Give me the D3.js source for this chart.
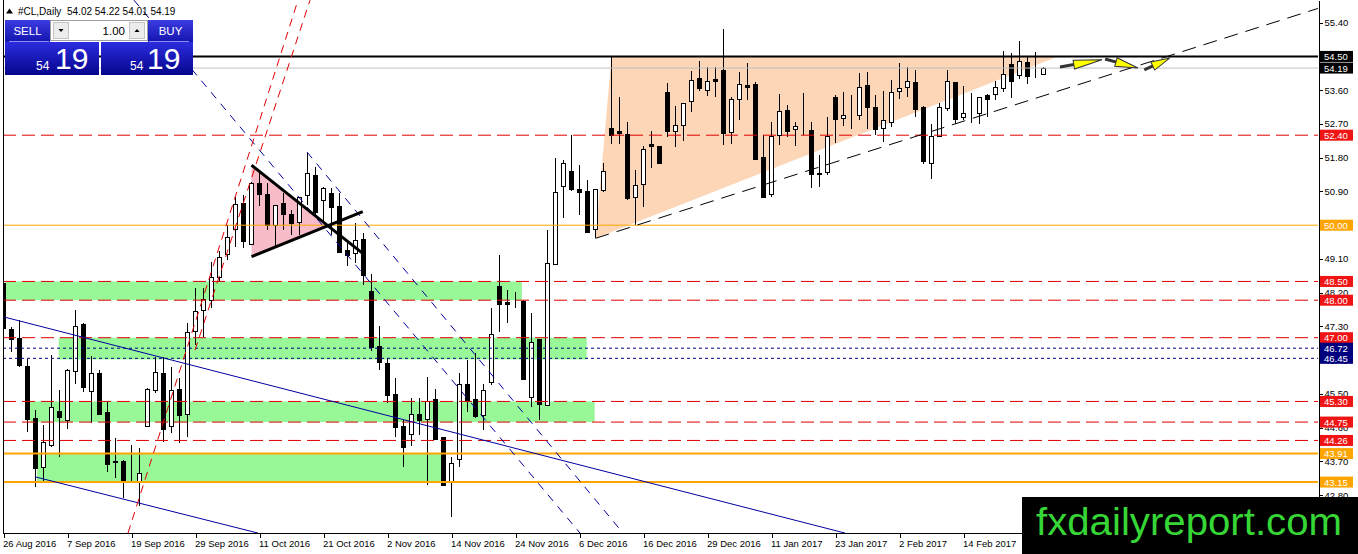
<!DOCTYPE html>
<html>
<head>
<meta charset="utf-8">
<script src="https://cdn.jsdelivr.net/npm/d3@7"></script>
<style>
  body { margin: 0; background: #fff; }
  svg { display: block; font-family: 'Liberation Sans', Arial, sans-serif; }
  .axis text { font-size: 9.5px; fill: #000; }
  .axis path, .axis line { stroke: #000; shape-rendering: crispEdges; }
</style>
</head>
<body>
<svg id="chart" width="1358" height="554"></svg>
<script>
// daily bars, index 0 = 26 Aug 2016
var opens = [
  48.45, 47.22, 46.98, 46.25, 44.85, 43.54, 44.16, 45.04, 44.82, 46.12,
  47.37, 45.56, 46.05, 45.01, 43.72, 43.71, 43.15, 43.16, 44.63, 45.62,
  46.05, 44.63, 45.63, 44.97, 47.20, 47.74, 48.02, 48.63, 49.25, 49.89,
  50.58, 49.50, 51.13, 50.83, 50.00, 50.60, 50.30, 50.10, 50.81, 51.34,
  50.65, 50.87, 50.51, 49.34, 49.25, 49.62, 48.25, 46.78, 46.32, 45.50,
  44.65, 44.45, 44.97, 44.82, 45.36, 44.34, 43.19, 43.76, 45.76, 45.36,
  44.94, 45.81, 48.38, 47.96, 47.99, 47.99, 45.41, 46.96, 45.20, 48.98,
  51.05, 51.45, 50.97, 50.92, 49.89, 50.94, 52.58, 52.51, 52.42, 50.76,
  51.09, 52.17, 52.11, 53.54, 52.49, 52.66, 53.31, 53.92, 53.62, 53.89,
  54.14, 52.49, 53.36, 53.73, 53.77, 51.83, 50.83, 52.41, 53.07, 52.56,
  52.55, 52.54, 51.38, 51.43, 53.41, 52.85, 52.94, 52.94, 53.74, 53.14,
  52.61, 52.74, 53.58, 53.70, 53.81, 53.14, 51.65, 52.38, 53.14, 53.81,
  52.89, 53.00, 53.00, 53.46, 53.50, 53.65, 54.30, 54.00, 54.35, 54.02,
  54.02
];
var highs = [
  48.70, 47.29, 47.47, 46.42, 45.07, 44.67, 46.54, 45.60, 46.17, 47.74,
  47.38, 46.51, 46.14, 45.31, 44.32, 43.74, 44.14, 44.05, 45.65, 46.49,
  46.49, 46.21, 45.92, 47.40, 48.32, 48.32, 49.03, 49.30, 50.00, 50.76,
  50.80, 51.16, 51.38, 51.12, 50.54, 50.85, 50.40, 50.76, 51.93, 51.56,
  51.03, 50.98, 50.85, 49.60, 50.05, 49.78, 48.70, 47.32, 46.45, 45.92,
  44.81, 45.38, 45.38, 45.96, 45.62, 44.36, 43.81, 46.05, 46.40, 46.58,
  45.77, 47.78, 49.21, 48.27, 48.23, 48.01, 47.65, 46.96, 49.87, 51.78,
  51.74, 52.41, 51.60, 51.20, 50.96, 51.65, 54.51, 53.43, 52.76, 51.47,
  52.10, 52.50, 52.11, 53.80, 53.18, 53.25, 54.12, 54.39, 54.23, 54.23,
  55.22, 53.43, 54.09, 54.32, 53.83, 52.41, 52.76, 53.50, 53.20, 52.76,
  53.53, 52.76, 51.87, 52.89, 53.47, 53.56, 53.47, 54.07, 54.09, 53.47,
  53.59, 53.87, 54.33, 54.23, 54.14, 53.18, 52.70, 53.25, 54.14, 53.81,
  53.71, 53.53, 53.43, 53.50, 53.85, 54.65, 54.58, 54.92, 54.48, 54.61,
  54.22
];
var lows = [
  47.10, 46.61, 46.21, 44.49, 43.01, 43.19, 44.09, 43.83, 44.56, 45.76,
  45.56, 44.72, 44.97, 43.43, 43.25, 42.72, 43.12, 42.51, 44.63, 45.52,
  44.23, 44.45, 44.18, 44.36, 46.80, 47.03, 47.78, 48.49, 49.07, 49.41,
  49.38, 49.50, 50.50, 49.87, 49.38, 49.87, 49.74, 49.74, 50.54, 50.23,
  50.09, 49.74, 49.29, 48.90, 48.98, 48.40, 46.65, 46.15, 45.25, 44.36,
  43.56, 44.10, 44.41, 43.07, 44.27, 43.05, 42.23, 43.56, 45.03, 44.85,
  44.54, 45.74, 47.16, 47.40, 47.78, 45.87, 45.16, 44.81, 45.20, 48.98,
  50.18, 50.92, 50.27, 49.80, 49.65, 50.89, 52.17, 52.17, 50.67, 50.00,
  50.49, 51.52, 51.67, 52.36, 52.08, 52.25, 53.03, 53.58, 53.45, 53.41,
  52.14, 52.17, 52.80, 53.34, 51.76, 50.72, 50.76, 52.14, 52.34, 52.10,
  52.40, 50.98, 51.03, 51.34, 52.20, 52.65, 52.56, 52.81, 52.56, 52.41,
  52.23, 52.63, 53.36, 53.41, 52.89, 51.63, 51.22, 52.36, 53.05, 52.70,
  52.81, 52.72, 52.70, 52.89, 53.34, 53.56, 53.38, 53.89, 53.76, 53.92,
  54.01
];
var closes = [
  47.25, 46.96, 46.25, 44.85, 43.52, 44.21, 45.16, 44.87, 46.14, 47.31,
  45.69, 46.05, 44.97, 43.62, 43.69, 43.19, 43.17, 43.38, 45.62, 46.09,
  44.56, 45.60, 44.94, 47.16, 47.72, 48.02, 48.62, 49.16, 49.69, 50.56,
  49.56, 51.13, 50.85, 50.00, 50.54, 50.30, 50.05, 50.76, 51.40, 50.36,
  50.98, 50.49, 49.29, 49.20, 49.60, 48.67, 46.76, 46.35, 45.47, 44.63,
  44.10, 44.97, 44.81, 45.30, 44.29, 43.07, 43.67, 45.76, 45.34, 44.91,
  45.60, 47.09, 47.89, 47.92, 47.98, 45.92, 46.88, 45.23, 48.98, 50.89,
  51.67, 50.96, 50.90, 49.83, 50.96, 51.45, 52.40, 52.45, 50.72, 51.07,
  52.03, 52.11, 51.67, 52.49, 52.66, 53.25, 53.87, 53.65, 53.85, 53.85,
  52.47, 53.36, 53.76, 53.68, 51.78, 50.76, 52.38, 53.05, 52.52, 52.64,
  52.54, 51.38, 51.40, 52.38, 52.82, 52.93, 52.93, 53.69, 53.16, 52.56,
  52.81, 53.54, 53.65, 53.85, 53.09, 51.70, 52.38, 53.14, 53.85, 52.82,
  53.00, 53.00, 53.43, 53.36, 53.69, 54.03, 53.85, 54.37, 53.99, 54.03,
  54.19
];

var dateTicks = [0, 8, 16, 24, 32, 40, 48, 56, 64, 72, 80, 88, 96, 104, 112, 120];
var dateLabels = ['26 Aug 2016', '7 Sep 2016', '19 Sep 2016', '29 Sep 2016', '11 Oct 2016',
  '21 Oct 2016', '2 Nov 2016', '14 Nov 2016', '24 Nov 2016', '6 Dec 2016', '16 Dec 2016',
  '29 Dec 2016', '11 Jan 2017', '23 Jan 2017', '2 Feb 2017', '14 Feb 2017'];
var priceTicks = [55.40, 54.50, 53.60, 52.70, 51.80, 50.90, 50.00, 49.10, 48.20,
  47.30, 46.40, 45.50, 44.60, 43.70, 42.80];

// horizontal levels
var resistLevel = 54.50;
var bidLevel = 54.19;
var dashLevels = [52.40, 48.50, 48.00, 47.00, 45.30, 44.75, 44.26];
var orangeLevels = [50.00, 43.91, 43.15];
var dotLevels = [46.72, 46.45];

// green zones: first bar, last bar, upper price, lower price
var zoneFrom = [0.2, 6.9, 3.3, 4.2];
var zoneTo = [64.8, 72.9, 73.9, 54.8];
var zoneHigh = [48.50, 47.00, 45.30, 43.91];
var zoneLow = [48.00, 46.42, 44.75, 43.15];

// triangles: bar, price pairs
var pennantBars = [31, 31, 40.4];
var pennantPrices = [51.60, 49.16, 49.96];
var wedgeBars = [76, 74, 131.8];
var wedgePrices = [54.50, 49.65, 54.50];

// trend lines: bar1, price1, bar2, price2
var pennantLines = [[31, 51.60, 44.9, 49.25], [31, 49.16, 44.9, 50.36]];
var redChannel = [[15.56, 41.79, 36.81, 56.0], [23.94, 46.67, 38.31, 56.0]];
var blueChannel = [[-0.44, 47.58, 105.19, 41.79], [3.94, 43.29, 31.81, 41.79]];
var blueDashed = [[16.31, 56.0, 72.06, 41.79], [37.94, 51.95, 77.44, 41.79]];
var supportLine = [[74, 49.65, 164.3, 55.78]];
var arrowMarks = [[132.06, 54.22, 137.3, 54.41], [137.7, 54.43, 141.8, 54.19], [142.6, 54.14, 145.8, 54.46]];

var svgWidth = 1358;
var svgHeight = 554;
var plotLeft = 3;
var plotRight = 1318;
var plotBottom = 533;

var svg = d3.select('#chart');

var xScale = d3.scaleLinear()
  .domain([0, 164.3125])
  .range([3.5, plotRight]);

var yScale = d3.scaleLinear()
  .domain([41.792, 56.005])
  .range([plotBottom, 0]);

var defs = svg.append('defs');
defs.append('clipPath')
  .attr('id', 'plot-clip')
  .append('rect')
  .attr('x', plotLeft)
  .attr('y', 0)
  .attr('width', plotRight - plotLeft)
  .attr('height', plotBottom);

function addGradient(id, top, bottom) {
  var g = defs.append('linearGradient')
    .attr('id', id)
    .attr('x1', 0).attr('y1', 0)
    .attr('x2', 0).attr('y2', 1);
  g.append('stop').attr('offset', '0%').attr('stop-color', top);
  g.append('stop').attr('offset', '100%').attr('stop-color', bottom);
}
addGradient('btn-grad', '#3c3ce0', '#1414b0');
addGradient('price-grad', '#2c2ce0', '#05058c');

var plot = svg.append('g')
  .attr('clip-path', 'url(#plot-clip)');

// zones
plot.selectAll('.zone')
  .data(zoneFrom)
  .enter()
  .append('rect')
  .attr('class', 'zone')
  .attr('x', function (d) { return xScale(d); })
  .attr('y', function (d, i) { return yScale(zoneHigh[i]); })
  .attr('width', function (d, i) { return xScale(zoneTo[i]) - xScale(d); })
  .attr('height', function (d, i) { return yScale(zoneLow[i]) - yScale(zoneHigh[i]); })
  .attr('fill', '#98f898');

function polyPoints(bars, prices) {
  return bars.map(function (b, i) {
    return xScale(b) + ',' + yScale(prices[i]);
  }).join(' ');
}

plot.append('polygon')
  .attr('points', polyPoints(wedgeBars, wedgePrices))
  .attr('fill', '#fcd6b6');

plot.append('polygon')
  .attr('points', polyPoints(pennantBars, pennantPrices))
  .attr('fill', '#f8bcc8');

// candles
var bars = d3.range(opens.length);
var candles = plot.append('g')
  .attr('shape-rendering', 'crispEdges');

candles.selectAll('.wick')
  .data(bars)
  .enter()
  .append('line')
  .attr('class', 'wick')
  .attr('x1', function (i) { return xScale(i); })
  .attr('x2', function (i) { return xScale(i); })
  .attr('y1', function (i) { return yScale(highs[i]); })
  .attr('y2', function (i) { return yScale(lows[i]); })
  .attr('stroke', '#000');

candles.selectAll('.body')
  .data(bars)
  .enter()
  .append('rect')
  .attr('class', 'body')
  .attr('x', function (i) { return xScale(i) - 2; })
  .attr('y', function (i) { return Math.round(yScale(Math.max(opens[i], closes[i]))) + 0.5; })
  .attr('width', 4)
  .attr('height', function (i) {
    return Math.max(0, Math.round(Math.abs(yScale(opens[i]) - yScale(closes[i]))));
  })
  .attr('fill', function (i) { return closes[i] >= opens[i] ? '#fff' : '#000'; })
  .attr('stroke', '#000');

// horizontal levels
function hLine(level, color, width, dash) {
  plot.append('line')
    .attr('x1', plotLeft)
    .attr('x2', plotRight)
    .attr('y1', yScale(level))
    .attr('y2', yScale(level))
    .attr('stroke', color)
    .attr('stroke-width', width)
    .attr('stroke-dasharray', dash);
}

dashLevels.forEach(function (d) { hLine(d, '#e00000', 1, '13,6'); });
orangeLevels.forEach(function (d, i) { hLine(d, '#ffa500', i === 0 ? 1 : 2, null); });
dotLevels.forEach(function (d) { hLine(d, '#000080', 1, '3,3'); });
hLine(bidLevel, '#c0c0c0', 1, null);
hLine(resistLevel, '#000', 2, null);

function segments(data, color, width, dash) {
  plot.append('g')
    .selectAll('line')
    .data(data)
    .enter()
    .append('line')
    .attr('x1', function (d) { return xScale(d[0]); })
    .attr('y1', function (d) { return yScale(d[1]); })
    .attr('x2', function (d) { return xScale(d[2]); })
    .attr('y2', function (d) { return yScale(d[3]); })
    .attr('stroke', color)
    .attr('stroke-width', width)
    .attr('stroke-dasharray', dash);
}

segments(blueChannel, '#0000a0', 1, null);
segments(blueDashed, '#0000a0', 1, '8,7');
segments(redChannel, '#e00000', 1, '8,6');
segments(supportLine, '#000', 1, '14,8');
segments(pennantLines, '#000', 3, null);

// arrows
arrowMarks.forEach(function (d) {
  var x1 = xScale(d[0]), y1 = yScale(d[1]);
  var x2 = xScale(d[2]), y2 = yScale(d[3]);
  var len = Math.sqrt((x2 - x1) * (x2 - x1) + (y2 - y1) * (y2 - y1));
  var ang = Math.atan2(y2 - y1, x2 - x1) * 180 / Math.PI;
  var g = plot.append('g')
    .attr('transform', 'translate(' + x1 + ',' + y1 + ') rotate(' + ang + ')');
  g.append('line')
    .attr('x1', 0).attr('y1', 0)
    .attr('x2', len * 0.4).attr('y2', 0)
    .attr('stroke', '#333')
    .attr('stroke-width', 3);
  g.append('polygon')
    .attr('points', (len * 0.33) + ',-4.5 ' + len + ',0 ' + (len * 0.33) + ',4.5')
    .attr('fill', '#ffff00')
    .attr('stroke', '#333')
    .attr('stroke-width', 1);
});

// frame
svg.append('line')
  .attr('x1', plotLeft + 0.5).attr('x2', plotLeft + 0.5)
  .attr('y1', 0).attr('y2', plotBottom)
  .attr('stroke', '#000');

// axes
var yAxis = d3.axisRight(yScale)
  .tickValues(priceTicks)
  .tickSize(4)
  .tickSizeOuter(0)
  .tickPadding(2)
  .tickFormat(d3.format('.2f'));

svg.append('g')
  .attr('class', 'axis')
  .attr('transform', 'translate(' + (plotRight + 0.5) + ',0)')
  .call(yAxis);

var xAxis = d3.axisBottom(xScale)
  .tickValues(dateTicks)
  .tickSize(4)
  .tickSizeOuter(0)
  .tickPadding(3)
  .tickFormat(function (d, i) { return dateLabels[i]; });

var xg = svg.append('g')
  .attr('class', 'axis')
  .attr('transform', 'translate(0,' + (plotBottom + 0.5) + ')')
  .call(xAxis);
xg.select('.domain')
  .attr('d', 'M' + plotLeft + ',0H' + plotRight);
xg.selectAll('text')
  .style('text-anchor', 'start')
  .attr('x', -1);

// price tags on the scale
var tagLevels = [resistLevel, bidLevel].concat(dashLevels, orangeLevels, dotLevels);
function tagColor(p) {
  if (dashLevels.indexOf(p) >= 0) return '#f01414';
  if (orangeLevels.indexOf(p) >= 0) return '#ffa500';
  if (dotLevels.indexOf(p) >= 0) return '#00007e';
  return '#000';
}
var tags = svg.append('g')
  .selectAll('g')
  .data(tagLevels.slice().sort(function (a, b) { return b - a; }))
  .enter()
  .append('g')
  .attr('transform', function (d) { return 'translate(' + (plotRight + 2) + ',' + yScale(d) + ')'; });

tags.append('rect')
  .attr('x', 0)
  .attr('y', -5.5)
  .attr('width', 33)
  .attr('height', 11)
  .attr('fill', tagColor);

tags.append('text')
  .attr('x', 4)
  .attr('y', 3.5)
  .attr('fill', '#fff')
  .style('font-size', '9.5px')
  .text(function (d) { return d.toFixed(2); });

// header
svg.append('polygon')
  .attr('points', '6,13.5 9.5,8.5 13,13.5')
  .attr('fill', '#000');
svg.append('text')
  .attr('x', 18)
  .attr('y', 15)
  .style('font-size', '10px')
  .text('#CL,Daily');
svg.append('text')
  .attr('x', 67)
  .attr('y', 15)
  .style('font-size', '10px')
  .text([opens[130], highs[130], lows[130], closes[130]].map(function (v) { return v.toFixed(2); }).join(' '));

// one-click trading panel
var panel = svg.append('g');
panel.append('rect')
  .attr('x', 5).attr('y', 20).attr('width', 45).attr('height', 22)
  .attr('fill', 'url(#btn-grad)');
panel.append('rect')
  .attr('x', 148).attr('y', 20).attr('width', 45).attr('height', 22)
  .attr('fill', 'url(#btn-grad)');
panel.append('rect')
  .attr('x', 5).attr('y', 42).attr('width', 94).attr('height', 33)
  .attr('fill', 'url(#price-grad)');
panel.append('rect')
  .attr('x', 101).attr('y', 42).attr('width', 92).attr('height', 33)
  .attr('fill', 'url(#price-grad)');
panel.append('line')
  .attr('x1', 9).attr('x2', 49).attr('y1', 41.5).attr('y2', 41.5)
  .attr('stroke', '#8c8cf0');
panel.append('line')
  .attr('x1', 149).attr('x2', 189).attr('y1', 41.5).attr('y2', 41.5)
  .attr('stroke', '#8c8cf0');
panel.append('rect')
  .attr('x', 50.5).attr('y', 20.5).attr('width', 97).attr('height', 20)
  .attr('fill', '#fff')
  .attr('stroke', '#a0a0a0');
panel.append('rect')
  .attr('x', 53.5).attr('y', 22.5).attr('width', 15).attr('height', 16)
  .attr('fill', '#ececec')
  .attr('stroke', '#c4c4c4');
panel.append('rect')
  .attr('x', 129.5).attr('y', 22.5).attr('width', 15).attr('height', 16)
  .attr('fill', '#ececec')
  .attr('stroke', '#c4c4c4');
panel.append('polygon')
  .attr('points', '58.5,29 63.5,29 61,32')
  .attr('fill', '#000');
panel.append('polygon')
  .attr('points', '134.5,32 139.5,32 137,29')
  .attr('fill', '#000');
panel.append('text')
  .attr('x', 125).attr('y', 35)
  .attr('text-anchor', 'end')
  .style('font-size', '11.5px')
  .text('1.00');
panel.append('text')
  .attr('x', 27.5).attr('y', 35)
  .attr('text-anchor', 'middle')
  .attr('fill', '#fff')
  .style('font-size', '11.5px')
  .text('SELL');
panel.append('text')
  .attr('x', 170.5).attr('y', 35)
  .attr('text-anchor', 'middle')
  .attr('fill', '#fff')
  .style('font-size', '11.5px')
  .text('BUY');

var quote = closes[130].toFixed(2).split('.');
[[36, 55], [130, 147]].forEach(function (p) {
  panel.append('text')
    .attr('x', p[0]).attr('y', 70)
    .attr('fill', '#fff')
    .style('font-size', '12px')
    .text(quote[0]);
  panel.append('text')
    .attr('x', p[1]).attr('y', 69)
    .attr('fill', '#fff')
    .style('font-size', '30px')
    .text(quote[1]);
});

// watermark
svg.append('rect')
  .attr('x', 1022).attr('y', 497)
  .attr('width', svgWidth - 1022).attr('height', svgHeight - 497)
  .attr('fill', '#000');
svg.append('text')
  .attr('x', 1036).attr('y', 535)
  .attr('fill', '#36d636')
  .attr('textLength', 306)
  .attr('lengthAdjust', 'spacingAndGlyphs')
  .style('font-size', '38px')
  .text('fxdailyreport.com');
</script>
</body>
</html>
